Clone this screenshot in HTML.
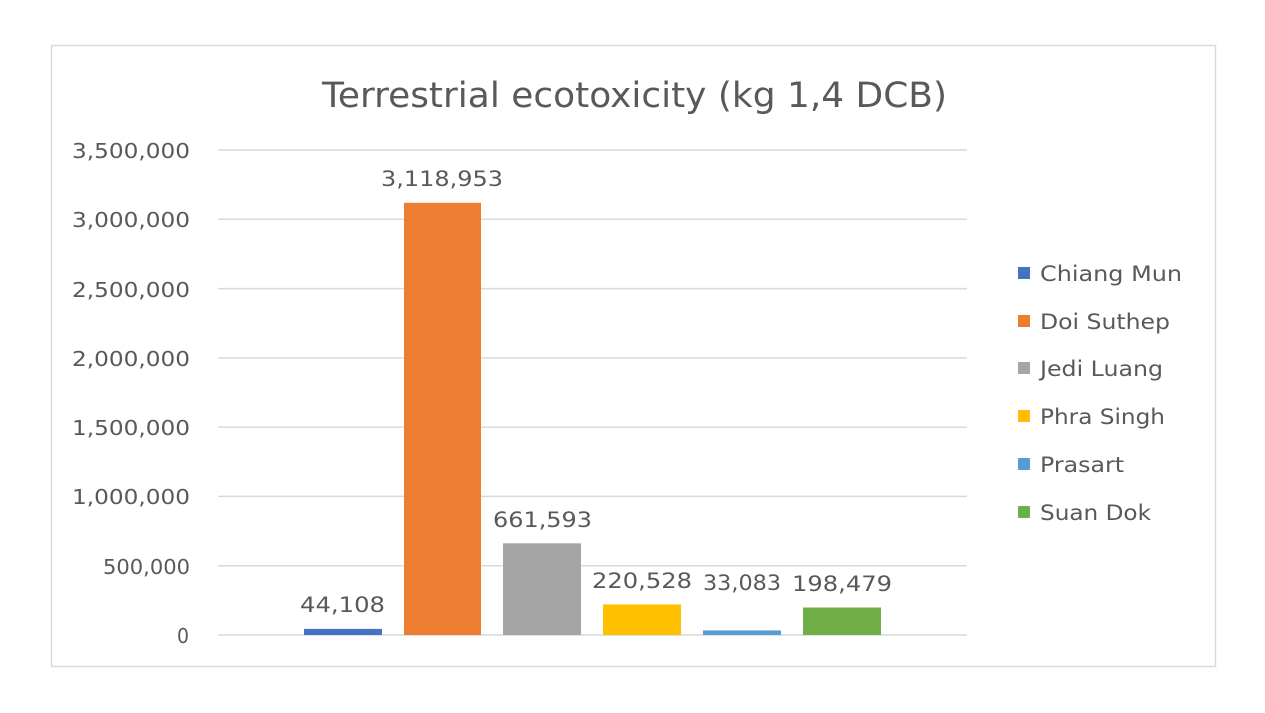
<!DOCTYPE html>
<html><head><meta charset="utf-8"><style>
body{margin:0;background:#fff;}
svg text{font-family:"DejaVu Sans","Liberation Sans",sans-serif;fill:#595959;}
</style></head><body>
<svg width="1265" height="708" xmlns="http://www.w3.org/2000/svg">
<rect x="0" y="0" width="1265" height="708" fill="#fff"/>
<rect x="51.5" y="45.5" width="1164" height="621" fill="#fff" stroke="#d9d9d9" stroke-width="1.5"/>
<text x="322" y="107" font-size="35" textLength="625" lengthAdjust="spacingAndGlyphs">Terrestrial ecotoxicity (kg 1,4 DCB)</text>
<g stroke="#d9d9d9" stroke-width="1.5">
<line x1="218" x2="967" y1="150" y2="150"/>
<line x1="218" x2="967" y1="219.3" y2="219.3"/>
<line x1="218" x2="967" y1="288.6" y2="288.6"/>
<line x1="218" x2="967" y1="357.9" y2="357.9"/>
<line x1="218" x2="967" y1="427.1" y2="427.1"/>
<line x1="218" x2="967" y1="496.4" y2="496.4"/>
<line x1="218" x2="967" y1="565.7" y2="565.7"/>
<line x1="218" x2="967" y1="635" y2="635"/>
</g>
<g font-size="20.5">
<text x="72" y="158" textLength="118" lengthAdjust="spacingAndGlyphs">3,500,000</text>
<text x="72" y="227" textLength="118" lengthAdjust="spacingAndGlyphs">3,000,000</text>
<text x="72" y="297" textLength="118" lengthAdjust="spacingAndGlyphs">2,500,000</text>
<text x="72" y="366" textLength="118" lengthAdjust="spacingAndGlyphs">2,000,000</text>
<text x="72" y="435" textLength="118" lengthAdjust="spacingAndGlyphs">1,500,000</text>
<text x="72" y="504" textLength="118" lengthAdjust="spacingAndGlyphs">1,000,000</text>
<text x="103" y="574" textLength="87" lengthAdjust="spacingAndGlyphs">500,000</text>
<text x="177" y="643" textLength="12" lengthAdjust="spacingAndGlyphs">0</text>
</g>
<rect x="304" y="628.9" width="78" height="6.1" fill="#4472c4"/>
<rect x="404" y="202.8" width="77" height="432.2" fill="#ed7d31"/>
<rect x="503" y="543.3" width="78" height="91.7" fill="#a5a5a5"/>
<rect x="603" y="604.4" width="78" height="30.6" fill="#ffc000"/>
<rect x="703" y="630.4" width="78" height="4.6" fill="#5b9bd5"/>
<rect x="803" y="607.5" width="78" height="27.5" fill="#70ad47"/>
<g font-size="21.5">
<text x="300" y="612" textLength="85" lengthAdjust="spacingAndGlyphs">44,108</text>
<text x="381" y="186" textLength="122" lengthAdjust="spacingAndGlyphs">3,118,953</text>
<text x="493" y="527" textLength="99" lengthAdjust="spacingAndGlyphs">661,593</text>
<text x="592" y="588" textLength="100" lengthAdjust="spacingAndGlyphs">220,528</text>
<text x="703" y="590" textLength="78" lengthAdjust="spacingAndGlyphs">33,083</text>
<text x="792" y="591" textLength="100" lengthAdjust="spacingAndGlyphs">198,479</text>
</g>
<g font-size="21.5">
<rect x="1018" y="267" width="12" height="12" fill="#4472c4"/><text x="1040" y="281" textLength="142" lengthAdjust="spacingAndGlyphs">Chiang Mun</text>
<rect x="1018" y="315" width="12" height="12" fill="#ed7d31"/><text x="1040" y="329" textLength="130" lengthAdjust="spacingAndGlyphs">Doi Suthep</text>
<rect x="1018" y="362" width="12" height="12" fill="#a5a5a5"/><text x="1040" y="376" textLength="123" lengthAdjust="spacingAndGlyphs">Jedi Luang</text>
<rect x="1018" y="410" width="12" height="12" fill="#ffc000"/><text x="1040" y="424" textLength="125" lengthAdjust="spacingAndGlyphs">Phra Singh</text>
<rect x="1018" y="458" width="12" height="12" fill="#5b9bd5"/><text x="1040" y="472" textLength="84" lengthAdjust="spacingAndGlyphs">Prasart</text>
<rect x="1018" y="506" width="12" height="12" fill="#70ad47"/><text x="1040" y="520" textLength="111" lengthAdjust="spacingAndGlyphs">Suan Dok</text>
</g>
</svg>
</body></html>
